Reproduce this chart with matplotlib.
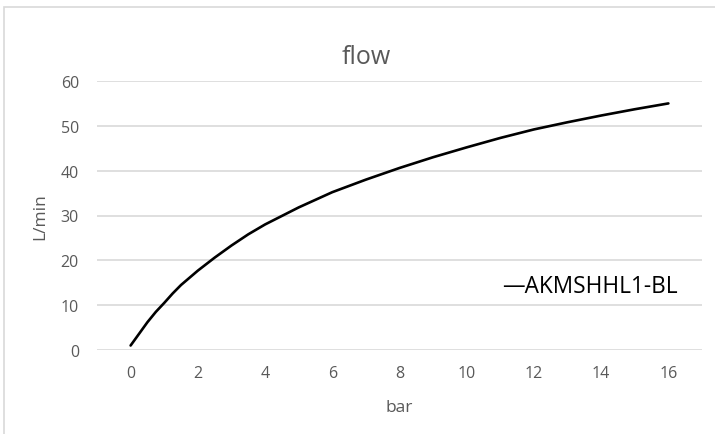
import matplotlib.pyplot as plt
from matplotlib.patches import Rectangle

# Data
pressure_bar = [0, 0.25, 0.5, 0.75, 1, 1.25, 1.5, 1.75, 2, 2.5, 3, 3.5, 4, 5, 6,
                7, 8, 9, 10, 11, 12, 13, 14, 15, 16]
flow_lpm = [1.0, 3.6, 6.2, 8.5, 10.5, 12.6, 14.5, 16.1, 17.7, 20.6, 23.3, 25.8,
            28.0, 31.8, 35.2, 38.0, 40.6, 43.0, 45.2, 47.3, 49.2, 50.8, 52.3,
            53.7, 55.0]
series_name = 'AKMSHHL1-BL'
x_ticks = [0, 2, 4, 6, 8, 10, 12, 14, 16]
y_ticks = [0, 10, 20, 30, 40, 50, 60]

plt.rcParams['font.family'] = ['Open Sans', 'DejaVu Sans']

W, H = 715, 435
fig = plt.figure(figsize=(W / 100, H / 100), dpi=100)

# chart area border (light grey), open to the right/bottom like the screenshot
fig.patches.append(Rectangle((4 / W, -0.1), 1.2, 1 - 8 / H + 0.1,
                             transform=fig.transFigure, fill=False,
                             edgecolor='#d9d9d9', linewidth=1.2))

ax = fig.add_axes([97 / W, 1 - 351 / H, (702 - 97) / W, (351 - 82) / H])
ax.plot(pressure_bar, flow_lpm, color='black', linewidth=1.9,
        solid_capstyle='round', solid_joinstyle='round')

ax.set_xlim(-1, 17)
ax.set_ylim(0, 60)
ax.set_xticks(x_ticks)
ax.set_yticks(y_ticks)
ax.grid(axis='y', color='#d9d9d9', linewidth=1.2)
ax.set_axisbelow(True)
for s in ax.spines.values():
    s.set_visible(False)
ax.tick_params(length=0, labelsize=11.5, labelcolor='#595959')
ax.tick_params(axis='y', pad=13)
ax.tick_params(axis='x', pad=11)

ax.set_xlabel('bar', fontsize=12.5, color='#595959', labelpad=13)
ax.set_ylabel('L/min', fontsize=12.5, color='#595959', labelpad=9)
fig.text(366 / W, 1 - 58 / H, 'flow', ha='center', va='center',
         fontsize=18, color='#595959')

# series label placed inside the plot
ax.text((502 - 97) / (702 - 97), (351 - 287) / (351 - 82),
        '\u2014' + series_name, transform=ax.transAxes,
        fontsize=16.3, color='black', ha='left', va='center')

fig.savefig('out.png', dpi=100)
